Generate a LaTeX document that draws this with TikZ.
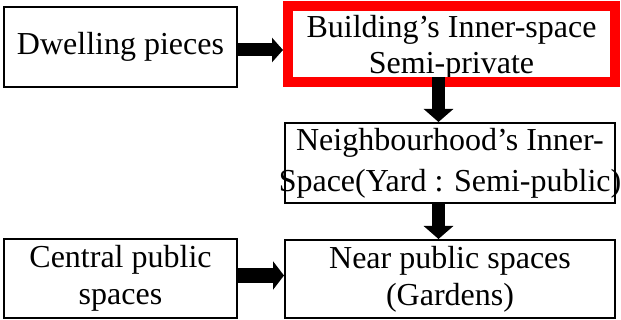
\documentclass[tikz,border=0pt]{standalone}
\usepackage{fontspec}
\setmainfont{Liberation Serif}
\usetikzlibrary{arrows.meta}
% a centred line that may stick out of its box on both sides
\newcommand{\wideline}[1]{\makebox[330pt][c]{#1}}
\begin{document}
\begin{tikzpicture}[x=1pt,y=-1pt,
  box/.style={draw=black, line width=2pt, fill=white, inner sep=0pt,
    align=center, font=\fontsize{32}{37}\selectfont},
  redframe/.style={draw=red, line width=10pt},
  harr/.style={line width=13pt, -{Triangle[length=11pt,width=24pt]}},
  varr/.style={line width=13pt, -{Triangle[length=13pt,width=29pt]}}]
\useasboundingbox (0,0) rectangle (621,320);

% left column
\node[box, minimum width=233pt, minimum height=80pt] (dw) at (120.5,47) {Dwelling pieces};
\node[box, minimum width=233pt, minimum height=79pt] (cp) at (120.5,278.5) {Central public\\spaces};

% right column
\node[box, draw=none, outer sep=0pt, text depth=0pt, font=\fontsize{32}{36}\selectfont,
  minimum width=327pt, minimum height=76pt] (bi) at (451.5,44)
  {Building’s Inner-space\\Semi-private};
\draw[redframe] (bi.south west) rectangle (bi.north east);
\node[box, minimum width=330pt, minimum height=80pt, font=\fontsize{32}{41}\selectfont] (nb) at (450,163)
  {\wideline{Neighbourhood’s Inner-}\\\wideline{Space(Yard : Semi-public)}};
\node[box, minimum width=330pt, minimum height=78pt] (np) at (450,279) {Near public spaces\\(Gardens)};

% connectors
\draw[harr] (dw.east |- 0,50) -- ([xshift=-5pt]bi.west |- 0,50);
\draw[varr] ([yshift=5pt]bi.south -| 438.5,0) -- (nb.north -| 438.5,0);
\draw[varr] (nb.south -| 438.5,0) -- (np.north -| 438.5,0);
\draw[harr, line width=15pt, -{Triangle[length=11pt,width=28pt]}] (cp.east |- 0,275.5) -- (np.west |- 0,275.5);
\end{tikzpicture}
\end{document}
